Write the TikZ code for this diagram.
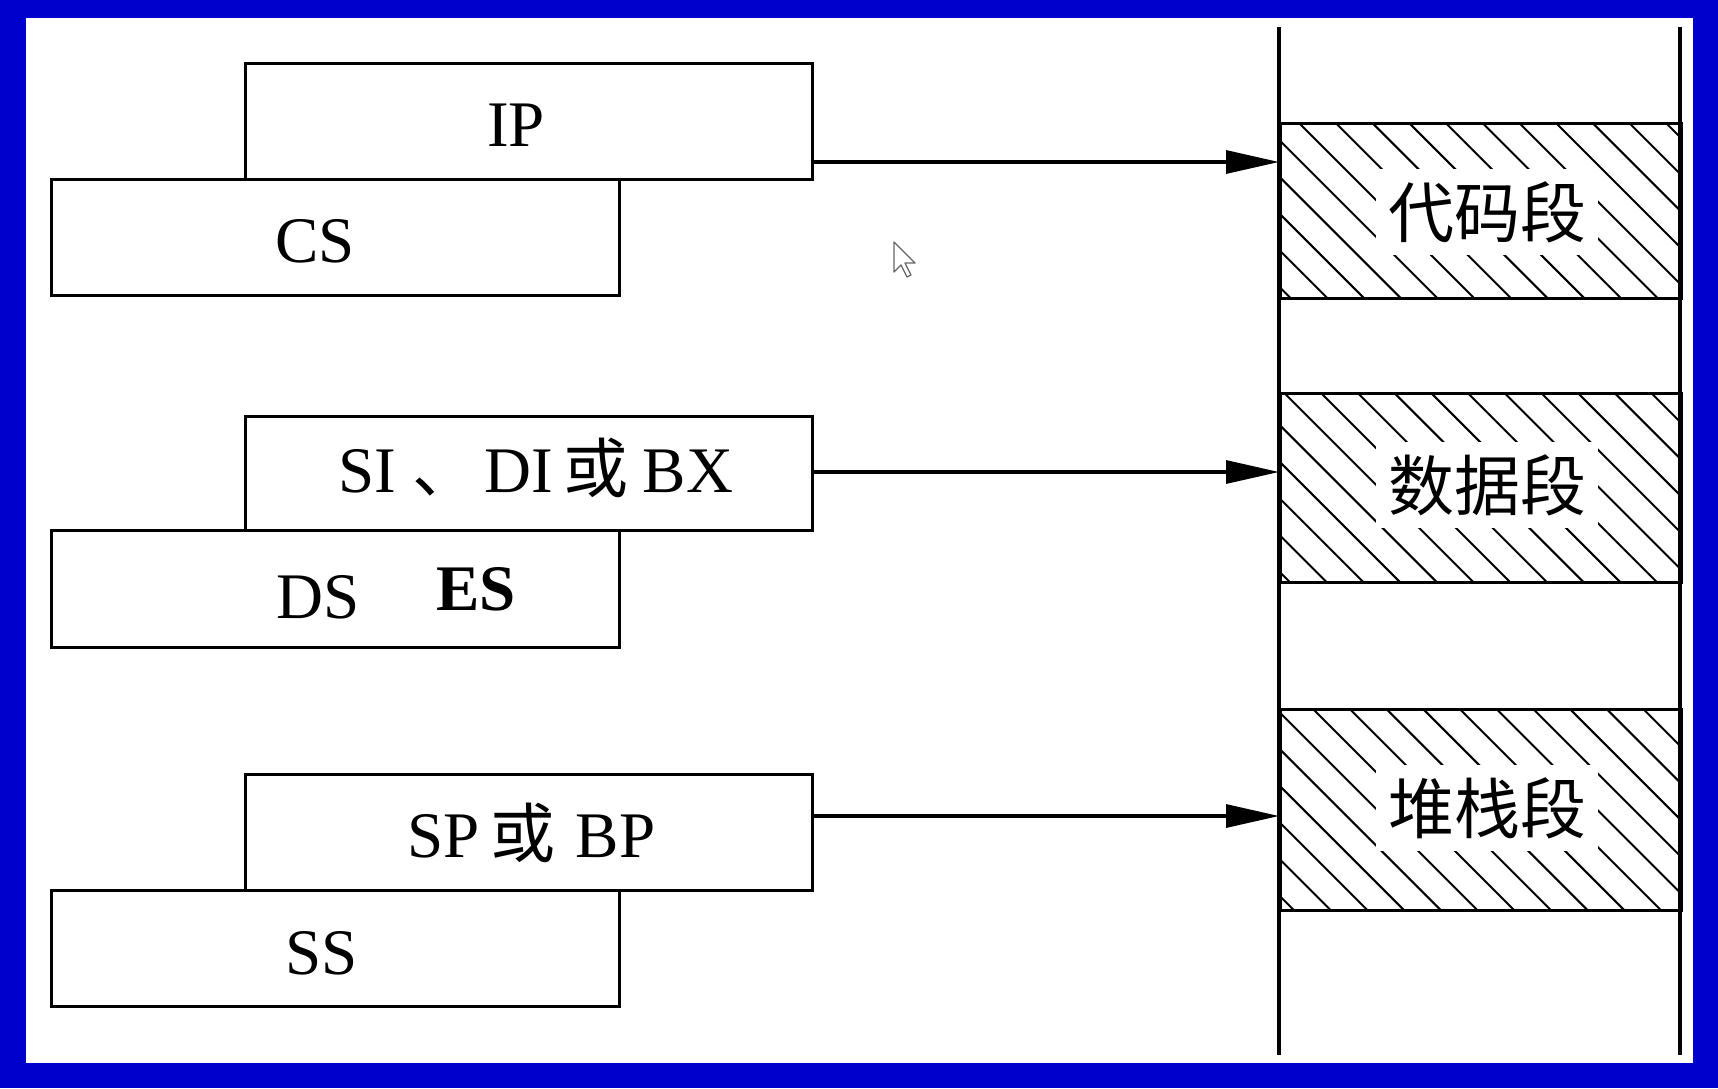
\documentclass[tikz,border=0pt]{standalone}
\usepackage{fontspec}
\setmainfont{Liberation Serif}
\newfontfamily\cjk{Noto Sans CJK SC}
\usetikzlibrary{arrows.meta}
\definecolor{frameblue}{RGB}{0,0,204}
\begin{document}
\begin{tikzpicture}[x=1pt,y=-1pt,
  regbox/.style={draw, line width=3.2pt, fill=white, inner sep=0pt, anchor=north west,
                 minimum height=116pt},
  seg/.style={draw, line width=3.2pt, inner sep=0pt, anchor=north west, minimum width=401pt},
  memline/.style={line width=3.4pt},
  hatch/.style={line width=2pt},
  conn/.style={line width=3.2pt, -{Triangle[length=53pt,width=23pt]}},
  reglabel/.style={anchor=base west, inner sep=0pt, font=\fontsize{65}{70}\selectfont},
  seglabel/.style={fill=white, inner sep=0pt, minimum width=222pt, minimum height=86pt,
                   font=\fontsize{66}{70}\selectfont\cjk},
]
% frame
\useasboundingbox (0,0) rectangle (1718,1088);
\fill[frameblue] (0,0) rectangle (1718,1088);
\fill[white] (26,18) rectangle (1693,1063);

% register pairs
\node[regbox, minimum width=567pt] (ip) at (244,62) {};
\node[regbox, minimum width=568pt] (cs) at (50,178) {};
\node[regbox, minimum width=567pt, minimum height=114pt] (si) at (244,415) {};
\node[regbox, minimum width=568pt, minimum height=117pt] (ds) at (50,529) {};
\node[regbox, minimum width=567pt] (sp) at (244,773) {};
\node[regbox, minimum width=568pt] (ss) at (50,889) {};

\node[reglabel] (tip) at (487,146) {IP};
\node[reglabel] (tcs) at (275,262) {CS};
\node[reglabel] (tsi) at (338,492) {SI {\cjk 、}\hspace{7pt}DI\,{\cjk 或}\hspace{-2pt} BX};
\node[reglabel] (tds) at (276,618) {DS};
\node[reglabel] (tes) at (436,610) {\bfseries ES};
\node[reglabel] (tsp) at (407,857) {SP\hspace{11pt}{\cjk 或}\hspace{4pt} BP};
\node[reglabel] (tss) at (285,974) {SS};

% memory column
\coordinate (mtl) at (1279,27);
\coordinate (mbl) at (1279,1055);
\coordinate (mtr) at (1680,27);
\coordinate (mbr) at (1680,1055);

% hatched segments
\begin{scope}
  \clip (1279,122) rectangle (1680,297);
  \foreach \k in {-6,...,11} \draw[hatch] (1298+36.7*\k,122) -- ++(220,220);
\end{scope}
\begin{scope}
  \clip (1279,392) rectangle (1680,581);
  \foreach \k in {-6,...,11} \draw[hatch] (1320+36.7*\k,392) -- ++(220,220);
\end{scope}
\begin{scope}
  \clip (1279,708) rectangle (1680,909);
  \foreach \k in {-6,...,11} \draw[hatch] (1312+36.7*\k,708) -- ++(230,230);
\end{scope}

\node[seg, minimum height=175pt] (code) at (1279,122) {};
\node[seg, minimum height=189pt] (data) at (1279,392) {};
\node[seg, minimum height=201pt] (stack) at (1279,708) {};

\draw[memline] (mtl) -- (mbl);
\draw[memline] (mtr) -- (mbr);

\node[seglabel] (lcode) at (1487,212) {代码段};
\node[seglabel] (ldata) at (1487,485) {数据段};
\node[seglabel] (lstack) at (1487,808) {堆栈段};

% pointers into the segments
\coordinate (y1) at (0,162);
\coordinate (y2) at (0,472);
\coordinate (y3) at (0,816);
\draw[conn] (ip.east |- y1) -- (code.west |- y1);
\draw[conn] (si.east |- y2) -- (data.west |- y2);
\draw[conn] (sp.east |- y3) -- (stack.west |- y3);

% mouse pointer
\draw[black!60, line width=1.3pt, fill=white, line join=round]
  (894,242) -- ++(0,30) -- ++(7,-7) -- ++(6,12) -- ++(4,-2) -- ++(-6,-12) -- ++(10,0) -- cycle;
\end{tikzpicture}
\end{document}
